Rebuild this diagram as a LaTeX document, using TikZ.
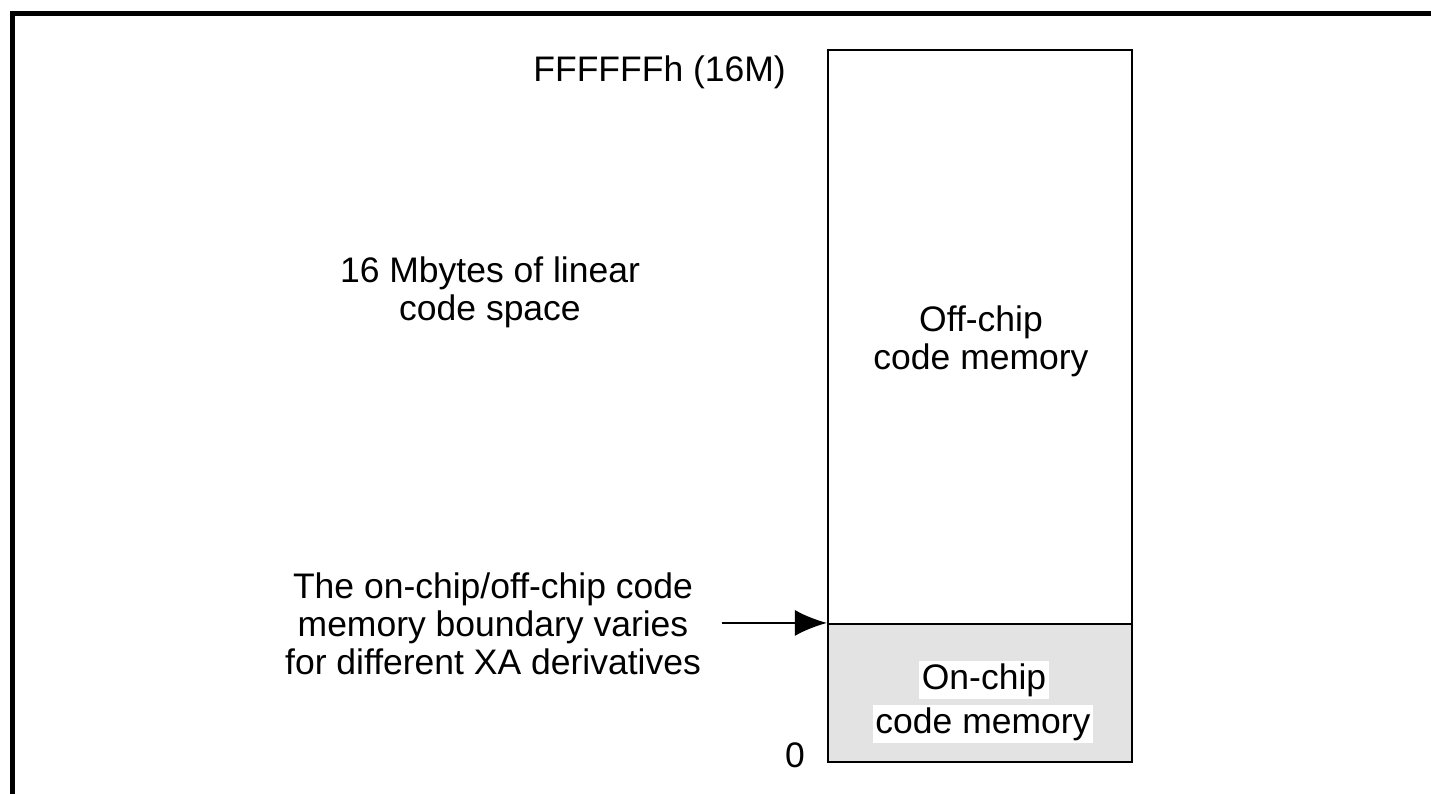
\documentclass[tikz,border=0pt]{standalone}
\usepackage{fontspec}
\setmainfont{Liberation Sans}
\usetikzlibrary{arrows.meta}
\begin{document}
\begin{tikzpicture}[every node/.style = {inner sep=1pt, align=center, font=\fontsize{10.1}{10.9}\selectfont},
          region/.style = {draw, line width=0.6pt, minimum width=3.04cm, inner sep=0pt},
          tag/.style = {fill=white, inner sep=0.8pt}]
          \useasboundingbox (0,0) rectangle (14.31,7.94);
          \draw[line width=1.4pt] (0.125,0) -- (0.125,7.805) -- (14.31,7.805);
          % memory map
          \node[region, minimum height=5.74cm] (offchip) at (9.80,4.57) {};
          \node (offlabel) at (9.81,4.53) {Off-chip\\code memory};
          \node[region, minimum height=1.38cm, fill=gray!22] (onchip) at (9.80,1.01) {};
          \node[tag] (onlabel) at (9.84,1.14) {On-chip};
          \node[tag] (onlabel2) at (9.83,0.70) {code memory};
          \node[anchor=east] (top) at (7.90,7.22) {FFFFFFh (16M)};
          \node (zero) at (7.95,0.39) {0};
          \node (space) at (4.90,5.02) {16 Mbytes of linear\\code space};
          \node (note) at (4.93,1.70) {The on-chip/off-chip code\\memory boundary varies\\for different XA derivatives};
          \coordinate (tail) at ([xshift=-10.5mm]onchip.north west);
          \draw[line width=0.6pt, -{Latex[length=3.2mm,width=2.6mm]}] (tail) -- (onchip.north west);
\end{tikzpicture}
\end{document}
